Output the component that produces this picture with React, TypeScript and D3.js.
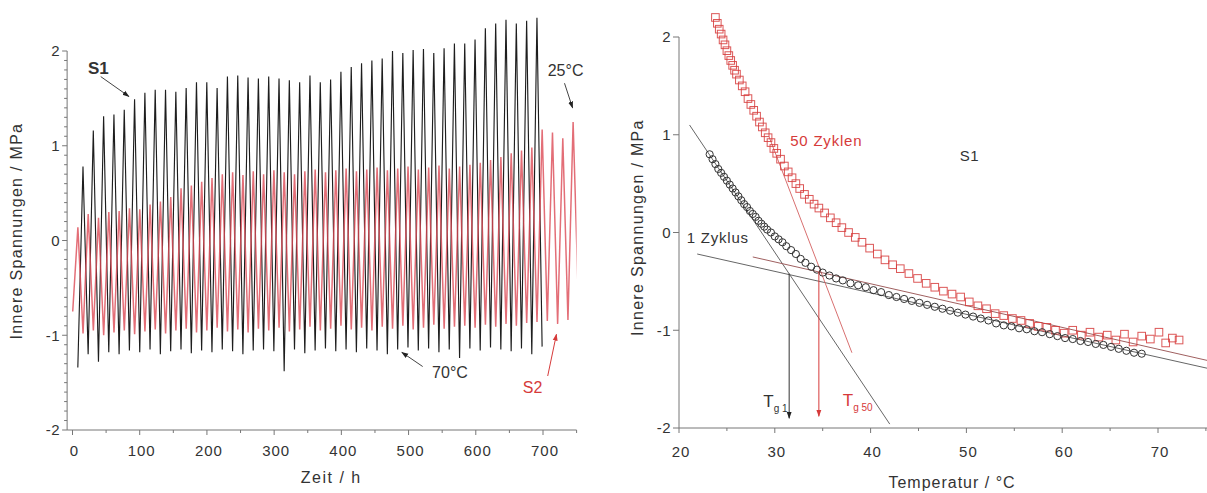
import React from 'react';
import * as d3 from 'd3';

// ---- left panel: innere Spannungen über Zeit (Zyklen 25 / 70 °C) ----
const cycleHours = 15.35;
const s1FirstPeak = 15.6;
const s2FirstPeak = 8;

// S1: Maxima (25 °C) und Minima (70 °C) je Zyklus, MPa
const s1Peaks = [
  0.78, 1.16, 1.31, 1.33, 1.38, 1.49, 1.56, 1.59, 1.59, 1.57,
  1.61, 1.67, 1.67, 1.61, 1.73, 1.74, 1.72, 1.71, 1.73, 1.71,
  1.69, 1.67, 1.74, 1.67, 1.70, 1.78, 1.83, 1.87, 1.90, 1.92,
  2.00, 1.98, 2.01, 2.02, 1.98, 2.03, 2.08, 2.08, 2.12, 2.24,
  2.29, 2.33, 2.29, 2.32, 2.35,
];
const s1Troughs = [
  -1.34, -1.20, -1.28, -1.18, -1.20, -1.16, -1.18, -1.15, -1.20, -1.17,
  -1.15, -1.19, -1.16, -1.18, -1.15, -1.17, -1.20, -1.16, -1.15, -1.17,
  -1.38, -1.15, -1.19, -1.16, -1.14, -1.17, -1.15, -1.18, -1.14, -1.16,
  -1.20, -1.15, -1.13, -1.16, -1.14, -1.18, -1.15, -1.24, -1.14, -1.16,
  -1.13, -1.15, -1.17, -1.14, -1.20, -1.12,
];
// S2
const s2Peaks = [
  0.14, 0.28, 0.24, 0.30, 0.31, 0.34, 0.33, 0.38, 0.41, 0.46,
  0.55, 0.58, 0.62, 0.66, 0.70, 0.72, 0.69, 0.73, 0.70, 0.74,
  0.72, 0.70, 0.73, 0.75, 0.72, 0.74, 0.76, 0.73, 0.75, 0.77,
  0.74, 0.76, 0.78, 0.75, 0.77, 0.79, 0.76, 0.78, 0.80, 0.82,
  0.85, 0.88, 0.92, 0.95, 0.98, 1.17, 1.14, 1.08, 1.25,
];
const s2Troughs = [
  -0.75, -0.98, -0.95, -1.00, -0.97, -0.95, -0.99, -0.96, -0.94, -0.98,
  -0.95, -0.93, -0.97, -0.95, -0.92, -0.96, -0.94, -0.97, -0.93, -0.95,
  -0.92, -0.96, -0.94, -0.91, -0.95, -0.93, -0.90, -0.94, -0.92, -0.95,
  -0.91, -0.93, -0.90, -0.94, -0.92, -0.89, -0.93, -0.91, -0.90, -0.92,
  -0.89, -0.91, -0.88, -0.90, -0.87, -0.86, -0.85, -0.88, -0.84, -0.60,
];
const timeTicks = [0, 100, 200, 300, 400, 500, 600, 700];
const stressTicks = [-2, -1, 0, 1, 2];

// ---- right panel: Spannung über Temperatur ----
const cycle1Temp = [
  23.2, 23.5, 23.8, 24.1, 24.4, 24.7, 25.0, 25.3, 25.6, 25.9,
  26.2, 26.5, 26.8, 27.1, 27.4, 27.7, 28.0, 28.3, 28.6, 28.9,
  29.2, 29.6, 30.0, 30.4, 30.8, 31.2, 31.7, 32.2, 32.7, 33.2,
  33.8, 34.4, 35.0, 35.7, 36.4, 37.1, 37.9, 38.7, 39.5, 40.3,
  41.1, 41.9, 42.7, 43.5, 44.3, 45.1, 45.9, 46.7, 47.5, 48.3,
  49.1, 49.9, 50.7, 51.5, 52.3, 53.1, 53.9, 54.7, 55.5, 56.3,
  57.1, 57.9, 58.7, 59.5, 60.3, 61.1, 61.9, 62.7, 63.5, 64.3,
  65.1, 65.9, 66.7, 67.5, 68.3,
];
const cycle1Stress = [
  0.80, 0.75, 0.70, 0.65, 0.61, 0.57, 0.53, 0.49, 0.45, 0.41,
  0.37, 0.33, 0.29, 0.26, 0.22, 0.19, 0.16, 0.12, 0.09, 0.06,
  0.03, 0.00, -0.04, -0.07, -0.10, -0.14, -0.18, -0.22, -0.27, -0.31,
  -0.35, -0.38, -0.41, -0.44, -0.47, -0.49, -0.52, -0.54, -0.56, -0.59,
  -0.61, -0.64, -0.66, -0.68, -0.70, -0.72, -0.74, -0.76, -0.78, -0.80,
  -0.82, -0.84, -0.86, -0.88, -0.90, -0.93, -0.95, -0.96, -0.98, -0.99,
  -1.01, -1.02, -1.04, -1.06, -1.08, -1.09, -1.11, -1.12, -1.14, -1.15,
  -1.17, -1.19, -1.21, -1.23, -1.24,
];
const cycle50Temp = [
  23.8, 24.0, 24.2, 24.4, 24.6, 24.8, 25.0, 25.2, 25.4, 25.6,
  25.8, 26.0, 26.3, 26.6, 26.9, 27.2, 27.5, 27.8, 28.1, 28.4,
  28.7, 29.0, 29.3, 29.6, 29.9, 30.2, 30.6, 31.0, 31.4, 31.8,
  32.2, 32.6, 33.1, 33.6, 34.1, 34.6, 35.2, 35.8, 36.4, 37.0,
  37.7, 38.4, 39.1, 39.9, 40.7, 41.5, 42.3, 43.1, 44.0, 44.9,
  45.8, 46.7, 47.6, 48.5, 49.4, 50.3, 51.2, 52.1, 53.0, 53.9,
  54.8, 55.7, 56.6, 57.5, 58.4, 59.3, 60.2, 61.1, 62.0, 62.9,
  63.8, 64.7, 65.6, 66.5, 67.4, 68.3, 69.2, 70.1, 70.8, 71.5, 72.2,
];
const cycle50Stress = [
  2.20, 2.14, 2.08, 2.03, 1.97, 1.92, 1.86, 1.81, 1.76, 1.71,
  1.66, 1.62, 1.56, 1.50, 1.44, 1.37, 1.31, 1.25, 1.19, 1.13,
  1.08, 1.02, 0.97, 0.92, 0.86, 0.81, 0.75, 0.68, 0.62, 0.56,
  0.50, 0.45, 0.39, 0.34, 0.29, 0.25, 0.20, 0.15, 0.10, 0.05,
  0.00, -0.05, -0.10, -0.16, -0.22, -0.28, -0.33, -0.37, -0.42, -0.47,
  -0.52, -0.56, -0.60, -0.63, -0.66, -0.71, -0.75, -0.78, -0.83, -0.85,
  -0.88, -0.90, -0.93, -0.96, -0.97, -1.00, -1.03, -1.00, -1.05, -1.02,
  -1.07, -1.05, -1.10, -1.04, -1.12, -1.06, -1.09, -1.02, -1.13, -1.08, -1.10,
];
// Tangenten [T1, σ1, T2, σ2]
const tangent1Steep = [21.1, 1.10, 42.0, -1.96];
const tangent1Flat = [21.9, -0.22, 75.2, -1.39];
const tangent50Steep = [29.4, 0.98, 38.05, -1.23];
const tangent50Flat = [27.7, -0.25, 75.2, -1.31];
// Glasübergang [T, σ Schnittpunkt]
const tg1 = [31.5, -0.42];
const tg50 = [34.6, -0.40];
const tempTicks = [20, 30, 40, 50, 60, 70];

const W = 1207;
const H = 493;
const FONT = '"Liberation Sans", Arial, sans-serif';
const INK = '#333';
const AXIS = '#777';
const RED = '#d63a3a';

const xL = d3.scaleLinear().domain([0, 700]).range([72.5, 543]);
const yL = d3.scaleLinear().domain([-2, 2]).range([430, 51]);
const xR = d3.scaleLinear().domain([20, 70]).range([679, 1158]);
const yR = d3.scaleLinear().domain([-2, 2]).range([428, 37]);

function cyclePoints(first: number, peaks: number[], troughs: number[]) {
  const pts: [number, number][] = [];
  troughs.forEach((v, i) => {
    pts.push([first - cycleHours / 2 + i * cycleHours, v]);
    if (i < peaks.length) pts.push([first + i * cycleHours, peaks[i]]);
  });
  return pts;
}

const App = () => {
  const lineL = d3.line<[number, number]>().x(d => xL(d[0])).y(d => yL(d[1]));
  const s1 = cyclePoints(s1FirstPeak, s1Peaks, s1Troughs);
  const s2 = cyclePoints(s2FirstPeak, s2Peaks, s2Troughs);

  const minorStress = d3.range(-20, 21).filter(k => k % 10 !== 0).map(k => k / 10);
  const minorTime = d3.range(50, 800, 100);
  const minorTemp = d3.range(25, 76, 10);

  const txt = { fontFamily: FONT, fill: INK };

  const seg = (t: number[], color: string) => (
    <line x1={xR(t[0])} y1={yR(t[1])} x2={xR(t[2])} y2={yR(t[3])} stroke={color} strokeWidth={1} />
  );

  return (
    <svg width={W} height={H} style={{ position: 'absolute', left: 0, top: 0, background: '#fff' }}>
      <defs>
        <marker id="ahK" viewBox="0 0 10 10" refX="9" refY="5" markerWidth="7" markerHeight="7" orient="auto">
          <path d="M0,1.5L10,5L0,8.5z" fill="#222" />
        </marker>
        <marker id="ahR" viewBox="0 0 10 10" refX="9" refY="5" markerWidth="7" markerHeight="7" orient="auto">
          <path d="M0,1.5L10,5L0,8.5z" fill={RED} />
        </marker>
        <clipPath id="clipL">
          <rect x={xL(-8)} y={0} width={xL(750) - xL(-8)} height={H} />
        </clipPath>
      </defs>

      {/* ---------- linkes Diagramm ---------- */}
      <g clipPath="url(#clipL)">
        <path d={lineL(s1) || ''} fill="none" stroke="#1e1e1e" strokeWidth={1.15} />
        <path d={lineL(s2) || ''} fill="none" stroke="#dc4a55" strokeWidth={1.5} strokeOpacity={0.8} />
      </g>

      <line x1={xL(-8)} x2={xL(-8)} y1={yL(-2)} y2={yL(2)} stroke={AXIS} />
      {minorStress.map(v => (
        <line key={'ml' + v} x1={xL(-8) - 3} x2={xL(-8)} y1={yL(v)} y2={yL(v)} stroke={AXIS} />
      ))}
      {stressTicks.map(v => (
        <g key={'yl' + v}>
          <line x1={xL(-8) - 5} x2={xL(-8)} y1={yL(v)} y2={yL(v)} stroke={AXIS} />
          <text x={xL(-8) - 7} y={yL(v)} dy="0.36em" textAnchor="end" fontSize={15} letterSpacing={0.5} {...txt}>{v}</text>
        </g>
      ))}
      <line x1={xL(-8)} x2={xL(750)} y1={yL(-2)} y2={yL(-2)} stroke={AXIS} />
      {minorTime.map(t => (
        <line key={'mt' + t} x1={xL(t)} x2={xL(t)} y1={yL(-2)} y2={yL(-2) + 3} stroke={AXIS} />
      ))}
      {timeTicks.map(t => (
        <g key={'xl' + t}>
          <line x1={xL(t)} x2={xL(t)} y1={yL(-2)} y2={yL(-2) + 5} stroke={AXIS} />
          <text x={xL(t) + 2} y={yL(-2) + 26} textAnchor="middle" fontSize={15} letterSpacing={1} {...txt}>{t}</text>
        </g>
      ))}
      <text x={xL(385)} y={yL(-2) + 53} textAnchor="middle" fontSize={16} letterSpacing={1.5} {...txt}>Zeit / h</text>
      <text transform={`translate(22,${yL(0.1)}) rotate(-90)`} textAnchor="middle" fontSize={16} letterSpacing={1.3} {...txt}>
        Innere Spannungen / MPa
      </text>

      {/* Beschriftungen links */}
      <text x={xL(23)} y={yL(1.76)} fontSize={17} fontWeight="bold" {...txt}>S1</text>
      <line x1={xL(42)} y1={yL(1.73)} x2={xL(84)} y2={yL(1.52)} stroke="#444" markerEnd="url(#ahK)" />
      <text x={xL(707)} y={yL(1.74)} fontSize={16} {...txt}>25°C</text>
      <line x1={xL(732)} y1={yL(1.66)} x2={xL(744)} y2={yL(1.40)} stroke="#444" markerEnd="url(#ahK)" />
      <text x={xL(535)} y={yL(-1.45)} fontSize={16} {...txt}>70°C</text>
      <line x1={xL(521)} y1={yL(-1.33)} x2={xL(490)} y2={yL(-1.18)} stroke="#444" markerEnd="url(#ahK)" />
      <text x={xL(670)} y={yL(-1.61)} fontSize={16} fill={RED} fontFamily={FONT}>S2</text>
      <line x1={xL(707)} y1={yL(-1.43)} x2={xL(720)} y2={yL(-0.99)} stroke={RED} markerEnd="url(#ahR)" />

      {/* ---------- rechtes Diagramm ---------- */}
      {seg(tangent1Steep, '#666')}
      {seg(tangent1Flat, '#666')}
      {seg(tangent50Steep, '#d87070')}
      {seg(tangent50Flat, '#a06060')}

      {cycle50Temp.map((t, i) => (
        <rect key={'sq' + i} x={xR(t) - 3.8} y={yR(cycle50Stress[i]) - 3.8} width={7.6} height={7.6}
          fill="none" stroke={RED} strokeWidth={1} strokeOpacity={0.85} />
      ))}
      {cycle1Temp.map((t, i) => (
        <circle key={'c' + i} cx={xR(t)} cy={yR(cycle1Stress[i])} r={3.6}
          fill="none" stroke="#333" strokeWidth={1} />
      ))}

      <line x1={xR(tg1[0])} x2={xR(tg1[0])} y1={yR(tg1[1])} y2={yR(-1.9)} stroke="#333" markerEnd="url(#ahK)" />
      <line x1={xR(tg50[0])} x2={xR(tg50[0])} y1={yR(tg50[1])} y2={yR(-1.88)} stroke={RED} markerEnd="url(#ahR)" />

      <line x1={xR(20)} x2={xR(20)} y1={yR(-2)} y2={yR(2)} stroke={AXIS} />
      {stressTicks.map(v => (
        <g key={'yr' + v}>
          <line x1={xR(20) - 6} x2={xR(20)} y1={yR(v)} y2={yR(v)} stroke={AXIS} />
          <text x={xR(20) - 8} y={yR(v)} dy="0.36em" textAnchor="end" fontSize={15} letterSpacing={0.5} {...txt}>{v}</text>
        </g>
      ))}
      <line x1={xR(20)} x2={W} y1={yR(-2)} y2={yR(-2)} stroke={AXIS} />
      {minorTemp.map(t => (
        <line key={'mT' + t} x1={xR(t)} x2={xR(t)} y1={yR(-2)} y2={yR(-2) + 3} stroke={AXIS} />
      ))}
      {tempTicks.map(t => (
        <g key={'xr' + t}>
          <line x1={xR(t)} x2={xR(t)} y1={yR(-2)} y2={yR(-2) + 5} stroke={AXIS} />
          <text x={xR(t) + 2} y={yR(-2) + 29} textAnchor="middle" fontSize={15} letterSpacing={1} {...txt}>{t}</text>
        </g>
      ))}
      <text x={xR(48.5)} y={yR(-2) + 60} textAnchor="middle" fontSize={16} letterSpacing={1} {...txt}>Temperatur / °C</text>
      <text transform={`translate(643,${yR(0.05)}) rotate(-90)`} textAnchor="middle" fontSize={16} letterSpacing={1.3} {...txt}>
        Innere Spannungen / MPa
      </text>

      {/* Beschriftungen rechts */}
      <text x={xR(31.6)} y={yR(0.88)} fontSize={15} letterSpacing={0.8} fill={RED} fontFamily={FONT}>50 Zyklen</text>
      <text x={xR(49.3)} y={yR(0.73)} fontSize={15} letterSpacing={0.5} {...txt}>S1</text>
      <text x={xR(20.8)} y={yR(-0.11)} fontSize={15} letterSpacing={0.8} {...txt}>1 Zyklus</text>
      <text x={xR(28.8)} y={yR(-1.79)} fontSize={17} {...txt}>
        T<tspan fontSize={10} dy={5}>g 1</tspan>
      </text>
      <text x={xR(37.1)} y={yR(-1.77)} fontSize={17} fill={RED} fontFamily={FONT}>
        T<tspan fontSize={10} dy={5}>g 50</tspan>
      </text>
    </svg>
  );
};

export default App;
